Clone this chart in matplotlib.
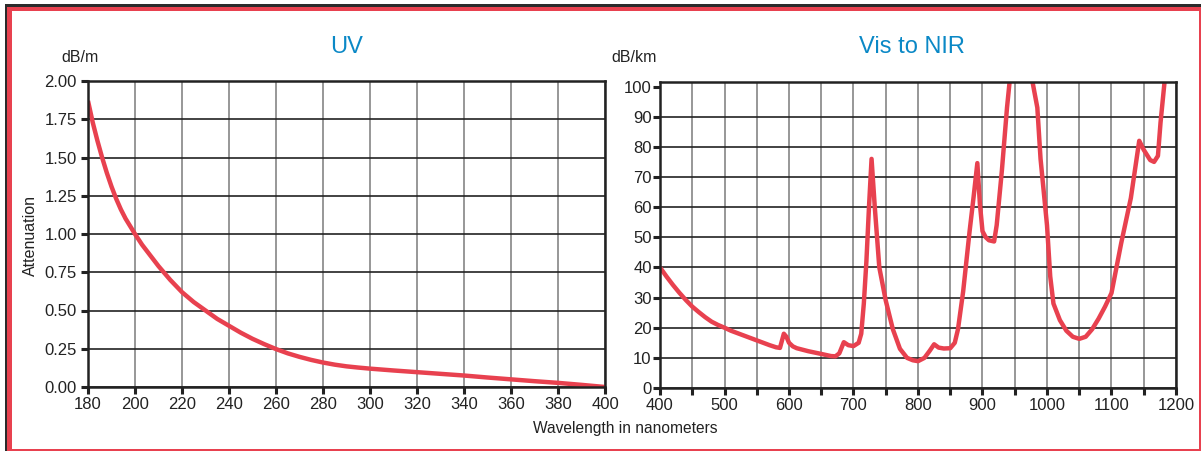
import matplotlib

matplotlib.use("Agg")
import matplotlib.pyplot as plt
from matplotlib.patches import Rectangle

RED = "#E8414F"
BLUE = "#0A88C6"
INK = "#222222"
GRIDV = "#7A7A7A"

plt.rcParams["font.family"] = ["Liberation Sans", "DejaVu Sans"]

# UV band, dB/m
uv_nm = [180, 182, 184, 186, 188, 190, 192, 194, 196, 198, 200, 203, 206, 210, 215,
         220, 225, 230, 235, 240, 245, 250, 255, 260, 265, 270, 275, 280, 285, 290,
         295, 300, 310, 320, 330, 340, 350, 360, 370, 380, 390, 400]
uv_db = [1.87, 1.73, 1.61, 1.50, 1.40, 1.31, 1.23, 1.16, 1.10, 1.05, 1.00, 0.93, 0.87,
         0.79, 0.70, 0.62, 0.555, 0.50, 0.445, 0.40, 0.355, 0.315, 0.28, 0.248, 0.22,
         0.197, 0.177, 0.16, 0.146, 0.135, 0.127, 0.12, 0.108, 0.097, 0.086, 0.075,
         0.062, 0.05, 0.038, 0.027, 0.014, 0.0]

# visible to near infrared, dB/km
nir_nm = [400, 410, 420, 430, 440, 450, 460, 470, 480, 490, 500, 510, 520, 530, 540,
          550, 560, 570, 580, 586, 592, 596, 600, 606, 612, 630, 650, 665, 672, 678,
          685, 692, 700, 708, 712, 716, 720, 724, 728, 733, 740, 750, 761, 772, 783,
          792, 800, 810, 818, 825, 832, 840, 850, 857, 862, 870, 880, 886, 892, 896,
          900, 905, 910, 918, 922, 930, 938, 946, 974, 978, 985, 990, 1000, 1005,
          1010, 1020, 1030, 1040, 1050, 1060, 1070, 1080, 1090, 1100, 1115, 1130,
          1143, 1150, 1160, 1166, 1172, 1176, 1182, 1186]
nir_db = [40, 37, 34.2, 31.6, 29.2, 27, 25.2, 23.5, 22, 20.9, 20, 19, 18.2, 17.4, 16.6,
          15.8, 15, 14.2, 13.5, 13.3, 18, 17, 15, 13.8, 13.2, 12.2, 11.3, 10.6, 10.5,
          11.5, 15.2, 14.2, 13.9, 15, 18, 28, 42, 60, 76, 60, 40, 29, 19.5, 13, 10,
          9.2, 8.9, 10, 12.3, 14.5, 13.4, 13.1, 13.2, 15, 19.5, 32, 52, 63, 74.6, 61,
          52, 50, 49, 48.6, 54, 72, 93, 110, 110, 101, 93, 76, 54, 37,
          28, 22.5, 19, 17, 16.3, 17, 19.5, 23, 27, 31.5, 48, 63,
          82, 79, 75.6, 75, 77, 88, 101, 112]

uv_ticks = list(range(180, 401, 20))
uv_yticks = [0, 0.25, 0.5, 0.75, 1.0, 1.25, 1.5, 1.75, 2.0]
nir_major = list(range(400, 1201, 100))
nir_minor = list(range(450, 1200, 100))
nir_yticks = list(range(0, 101, 10))

fig = plt.figure(figsize=(12.01, 4.51), dpi=100)
fig.patch.set_facecolor("white")

ax1 = fig.add_axes([88 / 1201, 64 / 451, 517 / 1201, 306 / 451])
ax2 = fig.add_axes([660 / 1201, 63 / 451, 516 / 1201, 306 / 451])


def style(ax):
    for s in ax.spines.values():
        s.set_linewidth(1.8)
        s.set_color(INK)
    ax.tick_params(which="both", direction="out", length=5, width=2.2, color=INK,
                   labelsize=12, labelcolor=INK, pad=2)
    ax.set_axisbelow(True)
    ax.grid(True, axis="y", which="major", color=INK, lw=1.2)
    ax.grid(True, axis="x", which="both", color=GRIDV, lw=1.1)


ax1.plot(uv_nm, uv_db, color=RED, lw=3.2, solid_joinstyle="round", solid_capstyle="butt")
ax1.set_xlim(180, 400)
ax1.set_ylim(0, 2.0)
ax1.set_xticks(uv_ticks)
ax1.set_yticks(uv_yticks)
ax1.set_yticklabels([f"{v:.2f}" for v in uv_yticks])
style(ax1)
ax1.tick_params(axis="y", pad=3)

ax2.plot(nir_nm, nir_db, color=RED, lw=3.2, solid_joinstyle="round", solid_capstyle="butt")
ax2.set_xlim(400, 1200)
ax2.set_ylim(0, 101.5)
ax2.set_xticks(nir_major)
ax2.set_xticks(nir_minor, minor=True)
ax2.set_yticks(nir_yticks)
style(ax2)
ax2.tick_params(axis="y", pad=1)
ax2.get_ygridlines()[-1].set_visible(False)

fig.text(347 / 1201, 1 - 47 / 451, "UV", ha="center", va="center", fontsize=17, color=BLUE)
fig.text(912 / 1201, 1 - 47 / 451, "Vis to NIR", ha="center", va="center", fontsize=17,
         color=BLUE)
fig.text(80 / 1201, 1 - 57 / 451, "dB/m", ha="center", va="center", fontsize=11.5, color=INK)
fig.text(634 / 1201, 1 - 57 / 451, "dB/km", ha="center", va="center", fontsize=11.5, color=INK)
fig.text(30 / 1201, 1 - 235 / 451, "Attenuation", ha="center", va="center", fontsize=11.5,
         color=INK, rotation=90)
fig.text(625 / 1201, 1 - 428 / 451, "Wavelength in nanometers", ha="center", va="center",
         fontsize=11.2, color=INK)

# frame round the figure: dark shadow top/left, red border
W, H = 1201, 451


def px_rect(x, y, w, h, color):
    fig.add_artist(Rectangle((x / W, 1 - (y + h) / H), w / W, h / H, transform=fig.transFigure,
                             fc=color, ec="none", lw=0))


px_rect(4.5, 4.5, W - 4.5, 2.2, "#2B2B2B")
px_rect(4.5, 4.5, 2.2, H - 4.5, "#2B2B2B")
px_rect(6.7, 6.7, W - 6.7, 4.3, RED)
px_rect(6.7, 6.7, 5.5, H - 6.7, RED)
px_rect(6.7, 448.5, W - 6.7, 2, RED)
px_rect(1199, 6.7, 2, H - 6.7, RED)

fig.savefig("out.png", dpi=100, facecolor="white")
